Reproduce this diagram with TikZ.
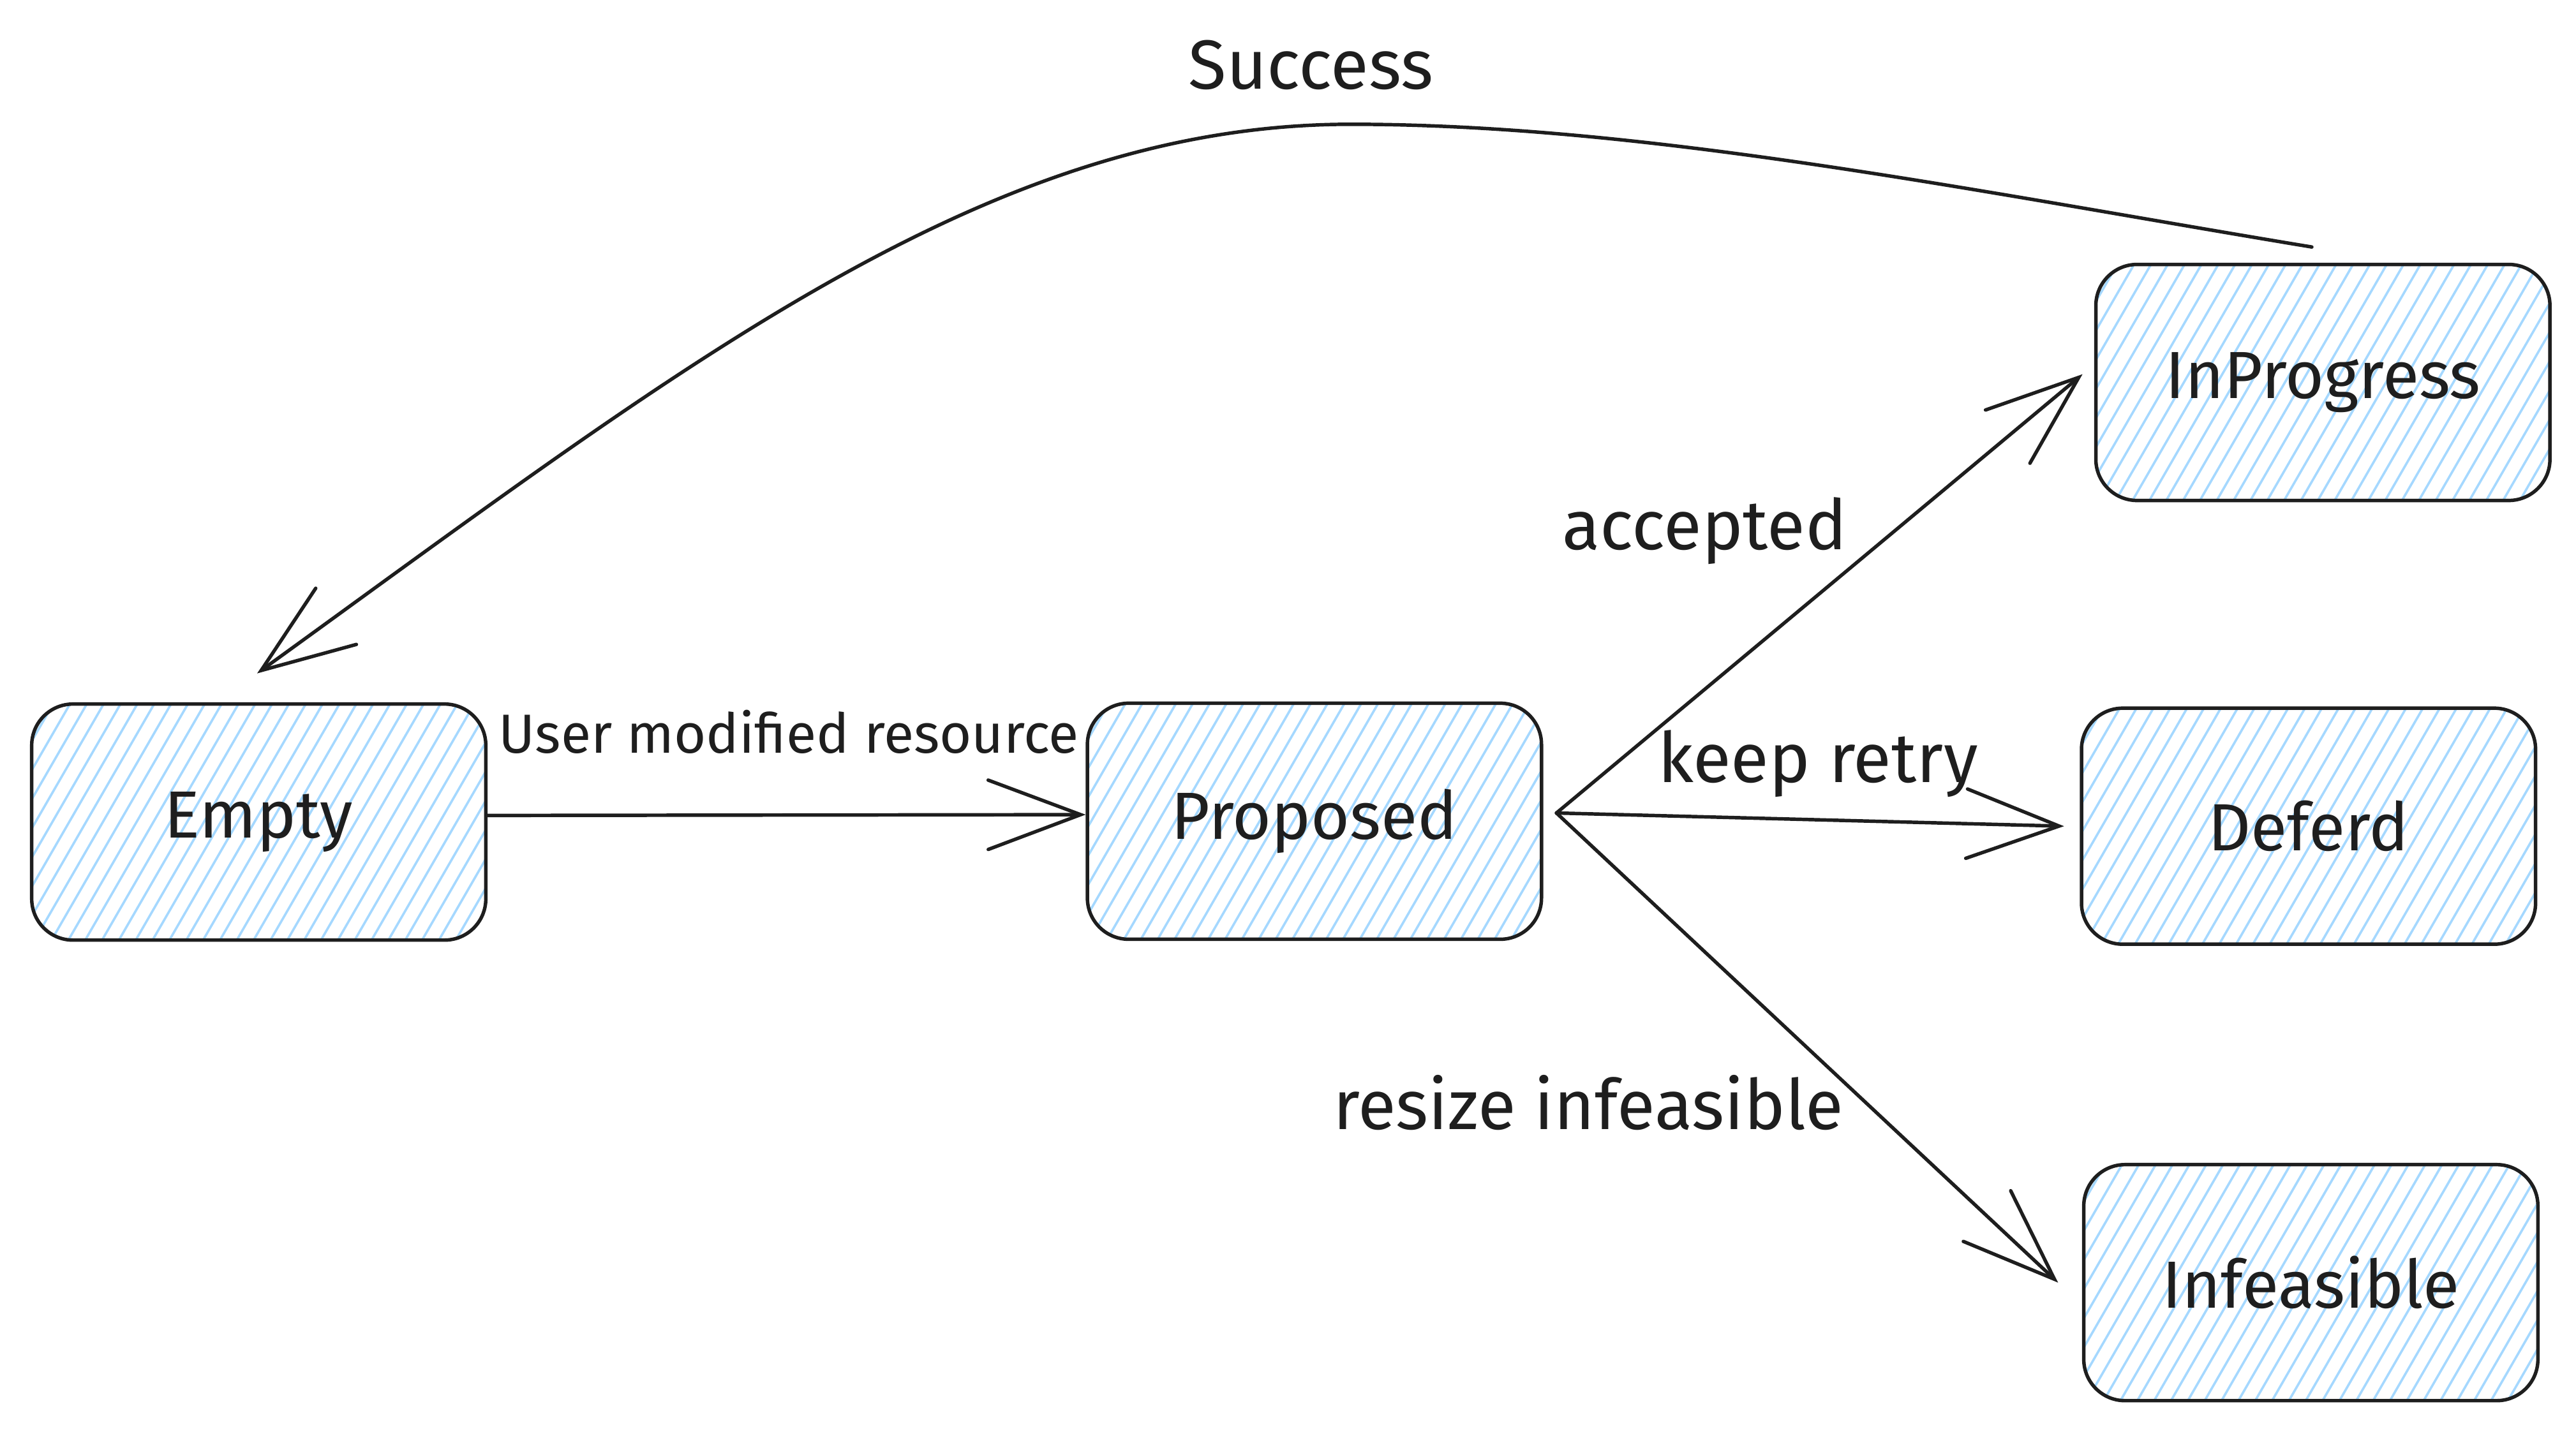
\documentclass[tikz,border=0pt]{standalone}
\usepackage{fontspec}
\setmainfont{Fira Sans}
\usetikzlibrary{arrows.meta}
\definecolor{ink}{HTML}{1E1E1E}
\definecolor{hatchblue}{HTML}{A5D8FF}

\tikzset{
  state/.style={draw=ink, line width=0.6pt, rounded corners=0.25cm,
    minimum width=2.75cm, minimum height=1.43cm, inner sep=0pt, text=ink,
    font=\fontsize{11.5}{13}\selectfont,
    path picture={\foreach \k in {0,...,40}
      \draw[hatchblue, line width=0.4pt]
        ([xshift=\k*1.02mm-9mm]path picture bounding box.south west) -- ++(60:1.7);}},
  trans/.style={draw=ink, line width=0.6pt, line cap=round,
    -{Straight Barb[length=5.6mm,width=4.2mm,line cap=round]}},
  lbl/.style={text=ink, anchor=base, inner sep=0pt,
    font=\fontsize{12}{14}\selectfont}
}

\begin{document}
\begin{tikzpicture}
    \useasboundingbox (0,0) rectangle (15.6,8.683);
    % states
    \node[state] (empty)    at (1.567,3.703)  {Empty};
    \node[state] (proposed) at (7.96,3.708)   {Proposed};
    \node[state] (inprog)   at (14.067,6.366) {InProgress};
    \node[state] (deferd)   at (13.98,3.678)  {Deferd};
    \node[state] (infeas)   at (13.994,0.913) {Infeasible};
    \coordinate (fan) at ([shift={(0.08,0.05)}]proposed.east);
    % transitions
    \draw[trans] ([yshift=0.04cm]empty.east) -- ([yshift=0.04cm]proposed.west);
    \draw[trans] (fan) -- ([shift={(-0.07,0.05)}]inprog.west);
    \draw[trans] (fan) -- ([xshift=-0.095cm]deferd.west);
    \draw[trans] (fan) -- ([xshift=-0.145cm]infeas.west);
    \draw[trans] ([shift={(-0.067,0.095)}]inprog.north)
      .. controls (11.98,7.52) and (9.98,7.93) .. (8.18,7.93)
      .. controls (5.98,7.93) and (4.149,6.478) .. ([shift={(-0.01,0.175)}]empty.north);
    % labels
    \node[lbl, font=\fontsize{9.5}{11}\selectfont] (lmod) at (4.777,4.123) {User modified resource};
    \node[lbl] (lacc)  at (10.322,5.353) {accepted};
    \node[lbl] (lkeep) at (11.009,3.945) {keep retry};
    \node[lbl] (lres)  at (9.618,1.843)  {resize infeasible};
    \node[lbl] (lsucc) at (7.939,8.142)  {Success};
\end{tikzpicture}
\end{document}
